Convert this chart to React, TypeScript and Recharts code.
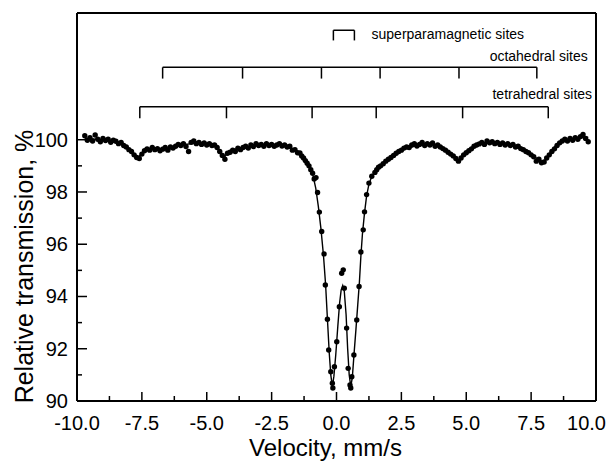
import React from 'react';
import { ScatterChart, Scatter, XAxis, YAxis, ReferenceLine, Label } from 'recharts';

// measured channels (velocity in mm/s, relative transmission in %)
const velocity = [
  -9.7, -9.6, -9.5, -9.4, -9.3, -9.2, -9.1, -9.0, -8.9, -8.8,
  -8.7, -8.6, -8.5, -8.4, -8.3, -8.2, -8.1, -8.0, -7.9, -7.8,
  -7.7, -7.6, -7.5, -7.4, -7.3, -7.2, -7.1, -7.0, -6.9, -6.8,
  -6.7, -6.6, -6.5, -6.4, -6.3, -6.2, -6.1, -6.0, -5.9, -5.8,
  -5.7, -5.6, -5.5, -5.4, -5.3, -5.2, -5.1, -5.0, -4.9, -4.8,
  -4.7, -4.6, -4.5, -4.4, -4.3, -4.2, -4.1, -4.0, -3.9, -3.8,
  -3.7, -3.6, -3.5, -3.4, -3.3, -3.2, -3.1, -3.0, -2.9, -2.8,
  -2.7, -2.6, -2.5, -2.4, -2.3, -2.2, -2.1, -2.0, -1.9, -1.8,
  -1.7, -1.6, -1.5,
  -1.41, -1.34, -1.27, -1.2, -1.13, -1.06, -0.99, -0.92, -0.86, -0.79,
  -0.73, -0.66, -0.57, -0.48, -0.43, -0.35, -0.3, -0.22, -0.16, -0.14,
  -0.08, 0.01, 0.11, 0.2, 0.26, 0.3, 0.39, 0.45, 0.52, 0.55,
  0.59, 0.67, 0.78, 0.87, 0.94, 1.03, 1.08, 1.16, 1.25, 1.36,
  1.48, 1.55, 1.62,
  1.7, 1.8, 1.9, 2.0, 2.1, 2.2, 2.3, 2.4, 2.5, 2.6,
  2.7, 2.8, 2.9, 3.0, 3.1, 3.2, 3.3, 3.4, 3.5, 3.6,
  3.7, 3.8, 3.9, 4.0, 4.1, 4.2, 4.3, 4.4, 4.5, 4.6,
  4.7, 4.8, 4.9, 5.0, 5.1, 5.2, 5.3, 5.4, 5.5, 5.6,
  5.7, 5.8, 5.9, 6.0, 6.1, 6.2, 6.3, 6.4, 6.5, 6.6,
  6.7, 6.8, 6.9, 7.0, 7.1, 7.2, 7.3, 7.4, 7.5, 7.6,
  7.7, 7.8, 7.9, 8.0, 8.1, 8.2, 8.3, 8.4, 8.5, 8.6,
  8.7, 8.8, 8.9, 9.0, 9.1, 9.2, 9.3, 9.4, 9.5, 9.6,
  9.7,
];

const transmission = [
  100.15, 99.98, 100.08, 99.95, 100.18, 100.02, 99.92, 100.05, 99.97, 100.02,
  99.9, 99.98, 99.94, 99.85, 99.9, 99.78, 99.72, 99.62, 99.55, 99.42,
  99.32, 99.28, 99.45, 99.58, 99.65, 99.6, 99.7, 99.62, 99.66, 99.58,
  99.64, 99.7, 99.6, 99.72, 99.68, 99.75, 99.82, 99.78, 99.85, 99.74,
  99.55, 99.9, 99.95, 99.85, 99.9, 99.82, 99.88, 99.8, 99.85, 99.78,
  99.8, 99.7, 99.55, 99.4, 99.25, 99.48, 99.52, 99.6, 99.55, 99.68,
  99.62, 99.7, 99.75, 99.68, 99.8, 99.74, 99.85, 99.78, 99.82, 99.75,
  99.85, 99.78, 99.82, 99.75, 99.8, 99.85, 99.76, 99.8, 99.72, 99.75,
  99.6, 99.62, 99.5,
  99.49, 99.38, 99.3, 99.2, 99.1, 99.0, 98.85, 98.72, 98.5, 98.55,
  97.98, 97.23, 96.49, 95.63, 94.44, 93.13, 91.95, 91.12, 90.68, 90.5,
  91.31, 92.27, 93.61, 94.89, 95.02, 94.32, 92.79, 91.25, 90.61, 90.5,
  90.93, 91.76, 93.1, 94.38, 95.7, 96.55, 97.24, 97.9, 98.34, 98.6,
  98.75, 98.85, 98.95,
  99.0, 99.08, 99.18, 99.25, 99.32, 99.4, 99.48, 99.55, 99.6, 99.68,
  99.72, 99.7, 99.8, 99.85, 99.76, 99.82, 99.9, 99.78, 99.85, 99.8,
  99.88, 99.75, 99.8, 99.72, 99.66, 99.6, 99.52, 99.45, 99.38, 99.28,
  99.18, 99.3, 99.42, 99.5, 99.58, 99.65, 99.75, 99.8, 99.84, 99.9,
  99.82, 99.95, 99.88, 99.92, 99.85, 99.9, 99.82, 99.88, 99.8, 99.85,
  99.78, 99.82, 99.72, 99.75, 99.66, 99.62, 99.55, 99.5, 99.42, 99.35,
  99.18, 99.25, 99.12, 99.15, 99.3, 99.42, 99.55, 99.65, 99.78, 99.88,
  99.95, 100.02, 99.95, 100.05, 99.98, 100.08, 100.02, 100.12, 100.2, 100.05,
  99.92,
];

// fitted envelope
const fitVelocity = [
  -9.7, -9.0, -8.5, -8.2, -8.0, -7.8, -7.65, -7.5, -7.3, -7.0,
  -6.7, -6.4, -6.0, -5.5, -5.0, -4.7, -4.5, -4.35, -4.2, -4.0,
  -3.6, -3.0, -2.5, -2.0, -1.7, -1.5, -1.3, -1.15, -1.0, -0.9,
  -0.8, -0.7, -0.6, -0.5, -0.42, -0.35, -0.28, -0.22, -0.16, -0.1,
  -0.03, 0.05, 0.12, 0.18, 0.24, 0.3, 0.37, 0.43, 0.49, 0.55,
  0.61, 0.68, 0.75, 0.82, 0.88, 0.94, 1.0, 1.08, 1.16, 1.25,
  1.36, 1.5, 1.7, 1.95, 2.3, 2.7, 3.2, 3.7, 4.1, 4.4,
  4.7, 4.9, 5.2, 5.6, 6.0, 6.5, 7.0, 7.4, 7.7, 7.95,
  8.2, 8.5, 8.8, 9.2, 9.7,
];
const fitTransmission = [
  100.05, 100.0, 99.94, 99.82, 99.66, 99.46, 99.34, 99.46, 99.62, 99.64,
  99.62, 99.7, 99.8, 99.86, 99.84, 99.78, 99.6, 99.28, 99.5, 99.62,
  99.7, 99.78, 99.8, 99.78, 99.65, 99.48, 99.3, 99.12, 98.9, 98.6,
  98.15, 97.45, 96.6, 95.55, 94.45, 93.15, 91.85, 91.0, 90.55, 90.95,
  91.75, 92.85, 93.75, 94.25, 94.42, 94.2, 93.3, 92.0, 91.0, 90.55,
  90.9, 91.85, 92.75, 93.7, 94.5, 95.55, 96.4, 97.2, 97.85, 98.3,
  98.6, 98.8, 99.0, 99.22, 99.45, 99.68, 99.8, 99.8, 99.68, 99.5,
  99.2, 99.45, 99.7, 99.85, 99.88, 99.85, 99.75, 99.55, 99.3, 99.1,
  99.45, 99.85, 99.98, 100.05, 100.1,
];

// line positions of the subspectra
const octahedralLines = [-6.7, -3.62, -0.58, 1.68, 4.72, 7.72];
const tetrahedralLines = [-7.58, -4.24, -0.94, 1.53, 4.86, 8.16];
const superparamagneticLines = [-0.12, 0.69];

const xTicks = [-10, -8.75, -7.5, -6.25, -5, -3.75, -2.5, -1.25, 0, 1.25, 2.5, 3.75, 5, 6.25, 7.5, 8.75, 10];
const yTicks = [90, 91, 92, 93, 94, 95, 96, 97, 98, 99, 100];

const Y_MAX = 104.85;

const points = velocity.map((v, i) => ({ v, t: transmission[i] }));
const fit = fitVelocity.map((v, i) => ({ v, t: fitTransmission[i] }));

const annotations = [
  { v: 1.35, t: 104.06, text: 'superparamagnetic sites', anchor: 'start' },
  { v: 9.68, t: 103.19, text: 'octahedral sites', anchor: 'end' },
  { v: 9.85, t: 101.76, text: 'tetrahedral sites', anchor: 'end' },
];

const XTick = (props: any) => {
  const { x, y, payload } = props;
  const major = Math.abs(payload.value / 2.5 - Math.round(payload.value / 2.5)) < 1e-6;
  // last label is pushed inside the page, as in the original figure
  const last = payload.value === 10;
  return (
    <g>
      <line x1={x} x2={x} y1={y} y2={y - (major ? 9 : 5)} stroke="#000" strokeWidth={1.5} />
      {major && (
        <text
          x={last ? x + 10 : x}
          y={y + 29}
          textAnchor={last ? 'end' : 'middle'}
          fontSize={20}
          fill="#000"
        >
          {payload.value.toFixed(1)}
        </text>
      )}
    </g>
  );
};

const YTick = (props: any) => {
  const { x, y, payload } = props;
  const major = payload.value % 2 === 0;
  return (
    <g>
      <line x1={x} x2={x + (major ? 10 : 5)} y1={y} y2={y} stroke="#000" strokeWidth={1.5} />
      {major && (
        <text x={x - 9} y={y + 7} textAnchor="end" fontSize={20} fill="#000">
          {payload.value}
        </text>
      )}
    </g>
  );
};

const XTitle = ({ viewBox }: any) => (
  <text x={viewBox.x + viewBox.width / 2 - 11} y={viewBox.y + 55} textAnchor="middle" fontSize={24} fill="#000">
    Velocity, mm/s
  </text>
);

const YTitle = ({ viewBox }: any) => {
  const cx = viewBox.x + 33;
  const cy = viewBox.y + viewBox.height - 134.5;
  return (
    <text x={cx} y={cy} transform={`rotate(-90, ${cx}, ${cy})`} textAnchor="middle" fontSize={25} fill="#000">
      Relative transmission, %
    </text>
  );
};

const bracket = (lines: number[], top: number, bottom: number, key: string) => [
  <ReferenceLine
    key={`${key}-bar`}
    segment={[{ x: lines[0], y: top }, { x: lines[lines.length - 1], y: top }]}
    stroke="#000"
    strokeWidth={1.5}
  />,
  ...lines.map((p, i) => (
    <ReferenceLine
      key={`${key}-${i}`}
      segment={[{ x: p, y: top }, { x: p, y: bottom }]}
      stroke="#000"
      strokeWidth={1.5}
    />
  )),
];

const Dot = (props: any) => <circle cx={props.cx} cy={props.cy} r={2.7} fill="#000" />;
const NoDot = () => <g />;

export default function App() {
  return (
    <div style={{ position: 'absolute', left: 0, top: 0, background: '#fff', fontFamily: '"Liberation Sans", Arial, sans-serif' }}>
      <ScatterChart width={608} height={461} margin={{ top: 13, right: 12, bottom: 0, left: 0 }}>
        <XAxis
          type="number"
          dataKey="v"
          domain={[-10, 10]}
          allowDataOverflow
          ticks={xTicks}
          interval={0}
          tickSize={0}
          tickMargin={0}
          tickLine={false}
          tick={<XTick />}
          axisLine={{ stroke: '#000', strokeWidth: 2 }}
          height={60}
        >
          <Label content={<XTitle />} />
        </XAxis>
        <YAxis
          type="number"
          dataKey="t"
          domain={[90, Y_MAX]}
          allowDataOverflow
          ticks={yTicks}
          interval={0}
          tickSize={0}
          tickMargin={0}
          tickLine={false}
          tick={<YTick />}
          axisLine={{ stroke: '#000', strokeWidth: 2 }}
          width={77}
        >
          <Label content={<YTitle />} />
        </YAxis>
        <ReferenceLine y={Y_MAX} stroke="#000" strokeWidth={2} />
        <ReferenceLine x={10} stroke="#000" strokeWidth={2} />
        {bracket(superparamagneticLines, 104.19, 103.8, 'sp')}
        {bracket(octahedralLines, 102.77, 102.34, 'oct')}
        {bracket(tetrahedralLines, 101.26, 100.82, 'tet')}
        <Scatter
          data={fit}
          line={{ stroke: '#000', strokeWidth: 1.4 }}
          lineType="joint"
          shape={<NoDot />}
          isAnimationActive={false}
        />
        <Scatter data={points} shape={<Dot />} isAnimationActive={false} />
        <Scatter
          data={annotations}
          isAnimationActive={false}
          shape={(p: any) => (
            <text x={p.cx} y={p.cy + 5} textAnchor={p.payload.anchor} fontSize={14} fill="#000">
              {p.payload.text}
            </text>
          )}
        />
      </ScatterChart>
    </div>
  );
}
